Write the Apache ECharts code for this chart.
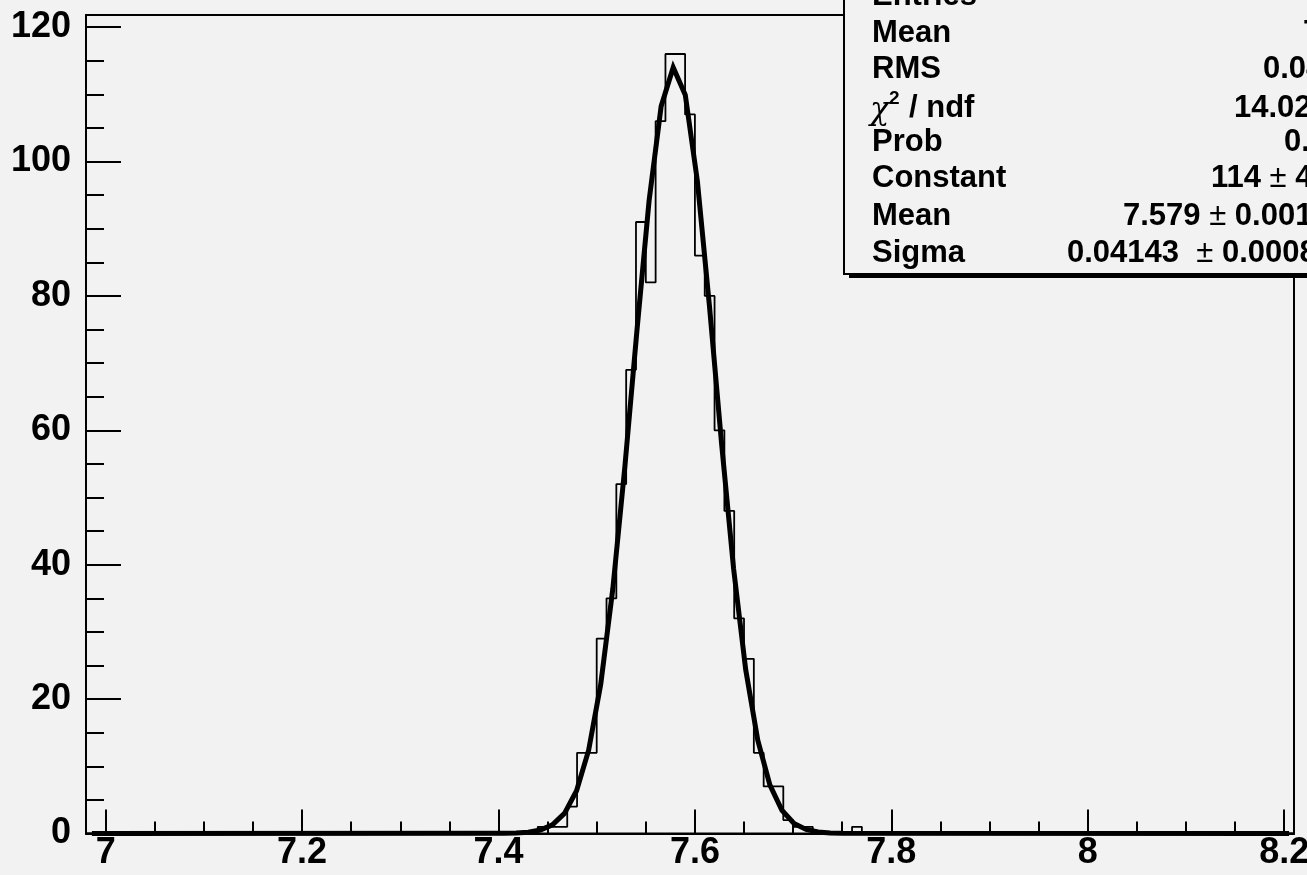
<!DOCTYPE html>
<html>
<head>
<meta charset="utf-8">
<title>gaus fit</title>
<script src="https://cdn.jsdelivr.net/npm/echarts@6.0.0/dist/echarts.min.js"></script>
<style>
  html, body { margin: 0; padding: 0; background: #f2f2f2; }
  #histo { width: 1307px; height: 875px; }
</style>
</head>
<body>
<div id="histo"></div>
<script>
// histogram: low edge of each bin (width 0.01) and its content
var binWidth = 0.01;
var binLow = [7.44, 7.45, 7.46, 7.47, 7.48, 7.49, 7.50, 7.51, 7.52, 7.53, 7.54,
              7.55, 7.56, 7.57, 7.58, 7.59, 7.60, 7.61, 7.62, 7.63, 7.64, 7.65,
              7.66, 7.67, 7.68, 7.69, 7.70, 7.71, 7.72, 7.73, 7.74, 7.75, 7.76];
var binCount = [1, 1, 1, 4, 12, 12, 29, 35, 52, 69, 91,
                82, 106, 116, 116, 107, 86, 80, 60, 48, 32, 26,
                12, 7, 7, 2, 1, 1, 0, 0, 0, 0, 1];

// gaus fit, polyline points as drawn
var fitX = [6.986, 7.4057, 7.4180, 7.4303, 7.4426, 7.4549, 7.4672, 7.4795, 7.4918, 7.5041,
            7.5164, 7.5287, 7.5410, 7.5533, 7.5656, 7.5779, 7.5902, 7.6025, 7.6148,
            7.6271, 7.6394, 7.6517, 7.6640, 7.6763, 7.6886, 7.7009, 7.7132, 7.7255,
            7.7378, 7.7501, 8.205];
var fitY = [0, 0.02, 0.06, 0.18, 0.51, 1.28, 2.99, 6.37, 12.4, 22.2,
            36.4, 54.6, 74.9, 94.1, 108.2, 114.0, 109.9, 97.1, 78.5,
            58.1, 39.4, 24.4, 13.9, 7.23, 3.45, 1.50, 0.60, 0.22,
            0.07, 0.02, 0];

// axis ticks
var xMajor = [7, 7.2, 7.4, 7.6, 7.8, 8, 8.2];
var xMinor = [7.05, 7.1, 7.15, 7.25, 7.3, 7.35, 7.45, 7.5, 7.55, 7.65, 7.7, 7.75,
              7.85, 7.9, 7.95, 8.05, 8.1, 8.15];
var yMajor = [0, 20, 40, 60, 80, 100, 120];
var yMinor = [5, 10, 15, 25, 30, 35, 45, 50, 55, 65, 70, 75, 85, 90, 95, 105, 110, 115];

// stats box text
var statNames = ['Entries', 'Mean', 'RMS', '/ ndf', 'Prob', 'Constant', 'Mean', 'Sigma'];
var statValues = ['1197', '7.581', '0.04271', '14.02 / 23', '0.6891', '114 ± 4.4',
                  '7.579 ± 0.001', '0.04143  ± 0.00085'];

// layout of the stats box (pixels)
var rowMid = [-4, 33, 69, 108, 142, 178, 216, 253];
var valueLeft = [1309, 1303, 1263, 1234, 1284, 1211, 1123, 1067];

var FONT = '"Liberation Sans", Arial, sans-serif';

function histOutline() {
    var pts = [[6.98, 0], [binLow[0], 0]];
    for (var i = 0; i < binLow.length; i++) {
        pts.push([binLow[i], binCount[i]]);
        pts.push([+(binLow[i] + binWidth).toFixed(2), binCount[i]]);
    }
    pts.push([pts[pts.length - 1][0], 0]);
    pts.push([8.21, 0]);
    return pts;
}

function fitPoints() {
    var pts = [];
    for (var i = 0; i < fitX.length; i++) pts.push([fitX[i], fitY[i]]);
    return pts;
}

function statsGraphic() {
    var g = [
        {type: 'rect', z: 100, shape: {x: 849, y: -40, width: 600, height: 318}, style: {fill: '#000'}},
        {type: 'rect', z: 101, shape: {x: 844, y: -45, width: 600, height: 319},
         style: {fill: '#f2f2f2', stroke: '#000', lineWidth: 2}}
    ];
    for (var i = 0; i < statNames.length; i++) {
        var nameX = 872;
        if (i === 3) {
            g.push({type: 'text', z: 102, x: 870, y: rowMid[i] + 3,
                    style: {text: 'χ', font: 'italic 32px "DejaVu Serif", serif', fill: '#000', verticalAlign: 'middle'}});
            g.push({type: 'text', z: 102, x: 889, y: rowMid[i] - 9,
                    style: {text: '2', font: 'bold 19px ' + FONT, fill: '#000', verticalAlign: 'middle'}});
            nameX = 909;
        }
        g.push({type: 'text', z: 102, x: nameX, y: rowMid[i],
                style: {text: statNames[i], font: 'bold 31px ' + FONT, fill: '#000', verticalAlign: 'middle'}});
        g.push({type: 'text', z: 102, x: valueLeft[i], y: rowMid[i],
                style: {text: statValues[i].replace('±', '{pm|±}'), font: 'bold 31px ' + FONT, fill: '#000',
                        verticalAlign: 'middle',
                        rich: {pm: {font: 'normal 31px ' + FONT, fill: '#000'}}}});
    }
    return g;
}

var xRange = {min: 6.98, max: 8.21};
var yRange = {min: 0, max: 121.8};

var option = {
    backgroundColor: '#f2f2f2',
    animation: false,
    grid: {left: 86, right: 13, top: 15, bottom: 41.5, show: true, borderColor: '#000', borderWidth: 2,
           backgroundColor: 'transparent', containLabel: false, outerBoundsMode: 'none'},
    xAxis: [
        {type: 'value', position: 'bottom', min: xRange.min, max: xRange.max,
         axisLine: {show: true, lineStyle: {color: '#000', width: 2}},
         axisTick: {show: true, inside: true, length: 24, lineStyle: {color: '#000', width: 2}, customValues: xMajor},
         axisLabel: {show: true, customValues: xMajor, margin: 2, color: '#000', fontFamily: 'Liberation Sans',
                     fontWeight: 'bold', fontSize: 36},
         splitLine: {show: false}},
        {type: 'value', position: 'bottom', min: xRange.min, max: xRange.max,
         axisLine: {show: false},
         axisTick: {show: true, inside: true, length: 12, lineStyle: {color: '#000', width: 2}, customValues: xMinor},
         axisLabel: {show: false},
         splitLine: {show: false}}
    ],
    yAxis: [
        {type: 'value', position: 'left', min: yRange.min, max: yRange.max,
         axisLine: {show: true, lineStyle: {color: '#000', width: 2}},
         axisTick: {show: true, inside: true, length: 35, lineStyle: {color: '#000', width: 2}, customValues: yMajor},
         axisLabel: {show: true, customValues: yMajor, margin: 15, color: '#000', fontFamily: 'Liberation Sans',
                     fontWeight: 'bold', fontSize: 36, padding: [0, 0, 6, 0]},
         splitLine: {show: false}},
        {type: 'value', position: 'left', min: yRange.min, max: yRange.max,
         axisLine: {show: false},
         axisTick: {show: true, inside: true, length: 18, lineStyle: {color: '#000', width: 2}, customValues: yMinor},
         axisLabel: {show: false},
         splitLine: {show: false}}
    ],
    series: [
        {name: 'histo', type: 'line', xAxisIndex: 0, yAxisIndex: 0, data: histOutline(),
         showSymbol: false, symbol: 'none', clip: false, z: 2,
         lineStyle: {color: '#000', width: 1.8}},
        {name: 'gaus', type: 'line', xAxisIndex: 0, yAxisIndex: 0, data: fitPoints(),
         showSymbol: false, symbol: 'none', clip: false, z: 3,
         lineStyle: {color: '#000', width: 5, join: 'miter'}}
    ],
    graphic: statsGraphic()
};

try {
    var histo = echarts.init(document.getElementById('histo'), null, {renderer: 'canvas'});
    histo.setOption(option);
} catch (e) {
    console.log(e);
}
</script>
</body>
</html>
